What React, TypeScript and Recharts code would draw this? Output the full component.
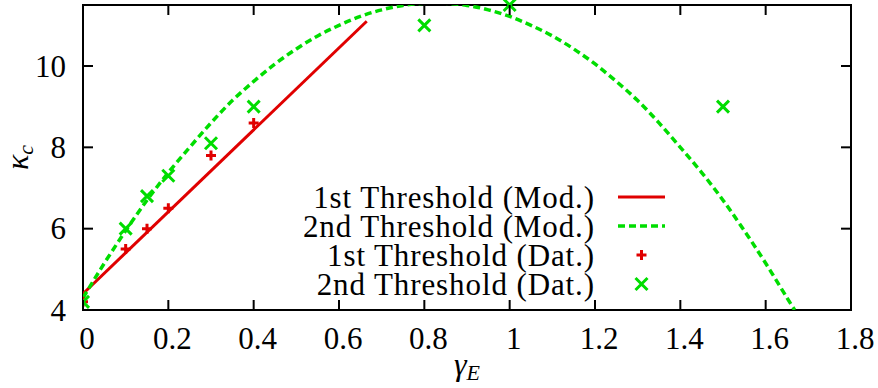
import React from "react";
import {
  ComposedChart,
  Line,
  Scatter,
  XAxis,
  YAxis,
  ReferenceArea,
  Legend,
} from "recharts";

// Model curves (gamma_E -> kappa_c)
const MOD1_X = [0, 0.665];
const MOD1_Y = [4.4, 11.1];

const MOD2_X = [
  0, 0.05, 0.1, 0.15, 0.2, 0.25, 0.3, 0.35, 0.4, 0.45, 0.5, 0.55, 0.6, 0.65,
  0.7, 0.75, 0.8, 0.85, 0.9, 0.95, 1.0, 1.05, 1.1, 1.15, 1.2, 1.25, 1.3, 1.35,
  1.4, 1.45, 1.5, 1.55, 1.6, 1.65, 1.668,
];
const MOD2_Y = [
  4.3, 5.15, 5.95, 6.7, 7.38, 8.0, 8.6, 9.15, 9.62, 10.05, 10.42, 10.74, 11.0,
  11.22, 11.38, 11.49, 11.54, 11.54, 11.49, 11.38, 11.22, 11.0, 10.74, 10.42,
  10.05, 9.62, 9.15, 8.6, 8.0, 7.38, 6.7, 5.95, 5.15, 4.3, 4.0,
];

// Measured thresholds
const DAT1_X = [0, 0.1, 0.15, 0.2, 0.3, 0.4];
const DAT1_Y = [4.2, 5.5, 6.0, 6.5, 7.8, 8.6];
const DAT2_X = [0, 0.1, 0.15, 0.2, 0.3, 0.4, 0.8, 1.0, 1.5];
const DAT2_Y = [4.2, 6.0, 6.8, 7.3, 8.1, 9.0, 11.0, 11.5, 9.0];

const X_TICKS = [0, 0.2, 0.4, 0.6, 0.8, 1, 1.2, 1.4, 1.6, 1.8];
const Y_TICKS = [4, 6, 8, 10];
const X_DOMAIN = [0, 1.8];
const Y_DOMAIN = [4, 11.5];

const LEGEND_LABELS = [
  "1st Threshold (Mod.)",
  "2nd Threshold (Mod.)",
  "1st Threshold (Dat.)",
  "2nd Threshold (Dat.)",
];

const zip = (xs: number[], ys: number[]) => xs.map((x, i) => ({ x, y: ys[i] }));
const mod1 = zip(MOD1_X, MOD1_Y);
const mod2 = zip(MOD2_X, MOD2_Y);
const dat1 = zip(DAT1_X, DAT1_Y);
const dat2 = zip(DAT2_X, DAT2_Y);

const W = 878;
const H = 388;
// plot area: x 83..851, y 5..310 (axes take 1px each)
const MARGIN = { top: 5, right: 27, bottom: 77, left: 82 };
const PLOT_W = 768;
const PLOT_H = 305;
const TICK_LEN = 10;

const RED = "#e00000";
const GREEN = "#00dd00";
const FONT = "'Liberation Serif', 'Times New Roman', serif";
const FS = 31;

const PlusMark = (cx: number, cy: number, key?: string) => (
  <path
    key={key}
    d={`M${cx - 5},${cy}H${cx + 5}M${cx},${cy - 5}V${cy + 5}`}
    stroke={RED}
    strokeWidth={3}
    fill="none"
  />
);
const CrossMark = (cx: number, cy: number, key?: string) => (
  <path
    key={key}
    d={`M${cx - 6},${cy - 6}L${cx + 6},${cy + 6}M${cx - 6},${cy + 6}L${cx + 6},${cy - 6}`}
    stroke={GREEN}
    strokeWidth={3}
    fill="none"
  />
);

const XTick = (props: any) => {
  const { x, y, payload } = props;
  return (
    <g>
      <line x1={x} y1={y} x2={x} y2={y - TICK_LEN} stroke="#000" strokeWidth={2} />
      <line x1={x} y1={y - PLOT_H} x2={x} y2={y - PLOT_H + TICK_LEN} stroke="#000" strokeWidth={2} />
      <text
        x={x + 4}
        y={y + 28}
        textAnchor="middle"
        dominantBaseline="central"
        fontSize={FS}
        fontFamily={FONT}
        fill="#000"
      >
        {String(payload.value)}
      </text>
    </g>
  );
};

const YTick = (props: any) => {
  const { x, y, payload } = props;
  return (
    <g>
      <line x1={x} y1={y} x2={x + TICK_LEN} y2={y} stroke="#000" strokeWidth={2} />
      <line x1={x + PLOT_W} y1={y} x2={x + PLOT_W - TICK_LEN} y2={y} stroke="#000" strokeWidth={2} />
      <text
        x={x - 17}
        y={y}
        textAnchor="end"
        dominantBaseline="central"
        fontSize={FS}
        fontFamily={FONT}
        fill="#000"
      >
        {String(payload.value)}
      </text>
    </g>
  );
};

const XLabel = () => {
  const cx = MARGIN.left + 1 + PLOT_W / 2;
  const by = MARGIN.top + PLOT_H + 65;
  return (
    <text
      x={cx}
      y={by}
      textAnchor="middle"
      fontFamily={FONT}
      fontStyle="italic"
      fontSize={32}
      fill="#000"
    >
      <tspan>γ</tspan>
      <tspan fontSize={22} dy={5}>E</tspan>
    </text>
  );
};

const YLabel = () => {
  const cx = 28;
  const cy = MARGIN.top + PLOT_H / 2;
  return (
    <text
      x={cx}
      y={cy}
      transform={`rotate(-90 ${cx} ${cy})`}
      textAnchor="middle"
      fontFamily={FONT}
      fontStyle="italic"
      fontSize={32}
      fill="#000"
    >
      <tspan>κ</tspan>
      <tspan fontSize={22} dy={5}>c</tspan>
    </text>
  );
};

const LegendBox = () => {
  const textRight = 595;
  const sampleL = 618;
  const sampleR = 665;
  const rows = [197, 226, 255, 284];
  return (
    <svg width={W} height={H} style={{ position: "absolute", left: 0, top: 0 }}>
      {LEGEND_LABELS.map((label, i) => (
        <text
          key={label}
          x={textRight}
          y={rows[i]}
          textAnchor="end"
          dominantBaseline="central"
          fontSize={FS}
          fontFamily={FONT}
          letterSpacing={0.9}
          fill="#000"
        >
          {label}
        </text>
      ))}
      <line x1={sampleL} y1={rows[0]} x2={sampleR} y2={rows[0]} stroke={RED} strokeWidth={3} />
      <line
        x1={sampleL}
        y1={rows[1]}
        x2={sampleR}
        y2={rows[1]}
        stroke={GREEN}
        strokeWidth={3.5}
        strokeDasharray="7 4"
      />
      {PlusMark((sampleL + sampleR) / 2, rows[2], "p")}
      {CrossMark((sampleL + sampleR) / 2, rows[3], "c")}
      <XLabel />
      <YLabel />
    </svg>
  );
};

export default function App() {
  return (
    <div style={{ position: "absolute", left: 0, top: 0 }}>
      <ComposedChart width={W} height={H} margin={MARGIN}>
        <XAxis
          dataKey="x"
          type="number"
          domain={X_DOMAIN}
          ticks={X_TICKS}
          interval={0}
          height={1}
          tickSize={0}
          tickMargin={0}
          axisLine={false}
          tickLine={false}
          tick={<XTick />}
          allowDataOverflow
        />
        <YAxis
          yAxisId="main"
          dataKey="y"
          type="number"
          domain={Y_DOMAIN}
          ticks={Y_TICKS}
          interval={0}
          width={1}
          tickSize={0}
          tickMargin={0}
          axisLine={false}
          tickLine={false}
          tick={<YTick />}
          allowDataOverflow
        />
        <YAxis yAxisId="pts" dataKey="y" type="number" domain={Y_DOMAIN} hide />
        <Legend
          layout="vertical"
          align="center"
          verticalAlign="middle"
          wrapperStyle={{ left: 0, top: 0, width: W, height: H, pointerEvents: "none" }}
          content={<LegendBox />}
        />
        <Line
          yAxisId="main"
          data={mod1}
          dataKey="y"
          name={LEGEND_LABELS[0]}
          type="linear"
          stroke={RED}
          strokeWidth={3}
          dot={false}
          activeDot={false}
          isAnimationActive={false}
        />
        <Line
          yAxisId="main"
          data={mod2}
          dataKey="y"
          name={LEGEND_LABELS[1]}
          type="natural"
          stroke={GREEN}
          strokeWidth={3.5}
          strokeDasharray="7 4"
          dot={false}
          activeDot={false}
          isAnimationActive={false}
        />
        <Scatter
          yAxisId="pts"
          data={dat1}
          dataKey="y"
          name={LEGEND_LABELS[2]}
          shape={(p: any) => PlusMark(p.cx, p.cy)}
          isAnimationActive={false}
        />
        <Scatter
          yAxisId="pts"
          data={dat2}
          dataKey="y"
          name={LEGEND_LABELS[3]}
          shape={(p: any) => CrossMark(p.cx, p.cy)}
          isAnimationActive={false}
        />
        <ReferenceArea
          yAxisId="main"
          x1={X_DOMAIN[0]}
          x2={X_DOMAIN[1]}
          y1={Y_DOMAIN[0]}
          y2={Y_DOMAIN[1]}
          fill="none"
          fillOpacity={0}
          stroke="#000"
          strokeWidth={2}
          ifOverflow="visible"
        />
      </ComposedChart>
    </div>
  );
}
